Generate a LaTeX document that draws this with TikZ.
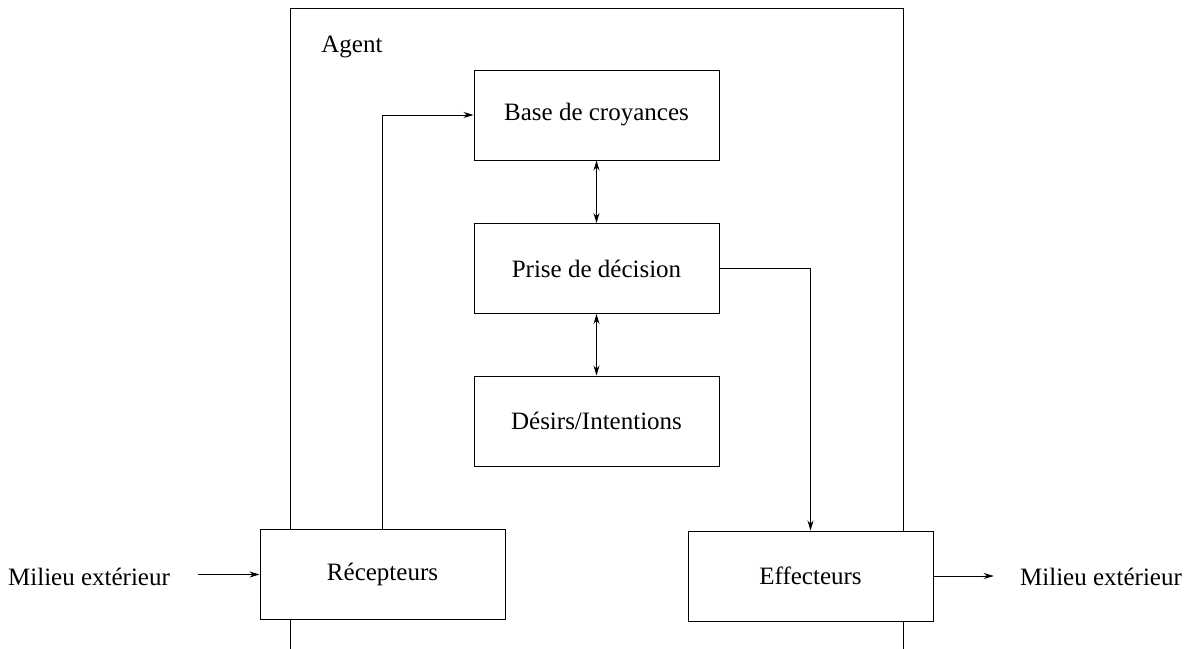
\documentclass[tikz,border=0pt]{standalone}
\usepackage{fontspec}
\setmainfont{Liberation Serif}
\usetikzlibrary{arrows.meta}

\tikzset{
  bloc/.style={draw, fill=white, line width=0.5pt, minimum width=122.5pt, minimum height=45pt,
    inner sep=0pt, font={\fontsize{12.5}{12.5}\selectfont}},
  etiq/.style={inner sep=2pt, font={\fontsize{12.5}{12.5}\selectfont}},
  fleche/.style={line width=0.5pt, -{Stealth[length=5pt, width=3pt]}},
  dfleche/.style={line width=0.5pt, {Stealth[length=5pt, width=3pt]}-{Stealth[length=5pt, width=3pt]}}
}

\begin{document}
\begin{tikzpicture}[x=0.5pt, y=-0.5pt]

\useasboundingbox (0,0) rectangle (1192,648);

\draw [line width=0.5pt] (290,660) -- (290,8) -- (903,8) -- (903,660);

\node [etiq, anchor=west] (agent) at (317,47) {Agent};

\node [bloc] (base) at (596.5,115) {Base de croyances};
\node [bloc] (prise) at (596.5,268.5) {Prise de décision};
\node [bloc] (desirs) at (596.5,421) {Désirs/Intentions};

\node [bloc] (recep) at (382.5,574.5) {Récepteurs};
\node [bloc] (effect) at (810.5,576) {Effecteurs};

\node [etiq] (milieuG) at (89,577) {Milieu extérieur};
\node [etiq] (milieuD) at (1101,577) {Milieu extérieur};

\draw [dfleche] (base) -- (prise);
\draw [dfleche] (prise) -- (desirs);

\draw [fleche] (recep.north) |- (base.west);
\draw [fleche] (prise.east) -| (effect.north);

\draw [fleche, shorten <=12pt] (milieuG.east |- recep.west) -- (recep.west);
\draw [fleche, shorten >=11pt] (effect.east) -- (milieuD.west |- effect.east);

\end{tikzpicture}
\end{document}
